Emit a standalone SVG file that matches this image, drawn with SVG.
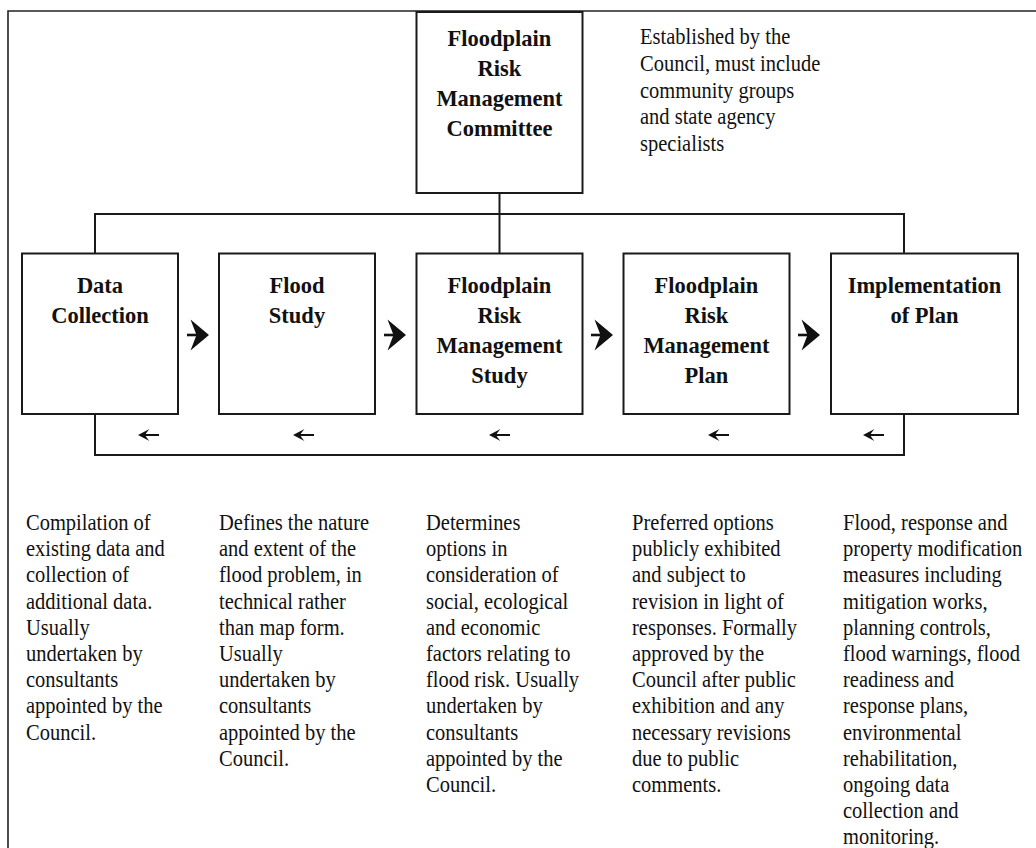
<svg xmlns="http://www.w3.org/2000/svg" width="1036" height="848" viewBox="0 0 1036 848">
<style>
.box{fill:#fff;stroke:#1a1a1a;stroke-width:2}
.ln{fill:none;stroke:#1a1a1a;stroke-width:2}
.frame{fill:none;stroke:#222;stroke-width:1.6}
.h{font-family:"Liberation Serif","Times New Roman",serif;font-weight:bold;font-size:22.5px;fill:#111;text-anchor:middle}
.b{font-family:"Liberation Serif","Times New Roman",serif;font-size:20.5px;fill:#111}
.ah{fill:#111}
</style>
<defs>
<g id="fwd">
<path d="M0,0 L-18.5,-15.5 L-12.5,0 L-18.5,15.5 Z"/>
<path d="M-22,0 H-11" stroke="#111" stroke-width="2.6"/>
</g>
<g id="back">
<path d="M0,0 L11.5,-6 Q7.5,-1.5 7.5,0 Q7.5,1.5 11.5,6 Z"/>
<path d="M5,0 H21" stroke="#111" stroke-width="2"/>
</g>
</defs>
<rect width="1036" height="848" fill="#fff"/>
<path class="frame" d="M8,850 V11 H1040"/>

<g id="connectors">
<path class="ln" d="M499.5,193 V253.5"/>
<path class="ln" d="M95,253.5 V214 H904 V253.5"/>
<path class="ln" d="M95,414 V455 H904 V414"/>
<g class="ah">
<use href="#fwd" x="209" y="335"/>
<use href="#fwd" x="406" y="335"/>
<use href="#fwd" x="613" y="335"/>
<use href="#fwd" x="820" y="335"/>
<use href="#back" x="138" y="435"/>
<use href="#back" x="293" y="435"/>
<use href="#back" x="489" y="435"/>
<use href="#back" x="708" y="435"/>
<use href="#back" x="863" y="435"/>
</g>
</g>

<g id="committee">
<rect class="box" x="416.5" y="12" width="166" height="181"/>
<text class="h" x="499.5" y="46">Floodplain<tspan x="499.5" dy="30">Risk</tspan><tspan x="499.5" dy="30">Management</tspan><tspan x="499.5" dy="30">Committee</tspan></text>
</g>
<g id="committee-note" transform="translate(640,44) scale(1,1.15)">
<text class="b" x="0" y="0">Established by the<tspan x="0" dy="23.3">Council, must include</tspan><tspan x="0" dy="23.3">community groups</tspan><tspan x="0" dy="23.3">and state agency</tspan><tspan x="0" dy="23.3">specialists</tspan></text>
</g>

<g id="data-collection">
<rect class="box" x="22" y="253.5" width="156" height="160.5"/>
<text class="h" x="100" y="293">Data<tspan x="100" dy="30">Collection</tspan></text>
</g>
<g id="flood-study">
<rect class="box" x="219" y="253.5" width="156" height="160.5"/>
<text class="h" x="297" y="293">Flood<tspan x="297" dy="30">Study</tspan></text>
</g>
<g id="frm-study">
<rect class="box" x="416.5" y="253.5" width="166" height="160.5"/>
<text class="h" x="499.5" y="293">Floodplain<tspan x="499.5" dy="30">Risk</tspan><tspan x="499.5" dy="30">Management</tspan><tspan x="499.5" dy="30">Study</tspan></text>
</g>
<g id="frm-plan">
<rect class="box" x="623.5" y="253.5" width="166" height="160.5"/>
<text class="h" x="706.5" y="293">Floodplain<tspan x="706.5" dy="30">Risk</tspan><tspan x="706.5" dy="30">Management</tspan><tspan x="706.5" dy="30">Plan</tspan></text>
</g>
<g id="implementation">
<rect class="box" x="831" y="253.5" width="187" height="160.5"/>
<text class="h" x="924.5" y="293">Implementation<tspan x="924.5" dy="30">of Plan</tspan></text>
</g>

<g id="desc-data-collection" transform="translate(26,530) scale(1,1.15)">
<text class="b" x="0" y="0">Compilation of<tspan x="0" dy="22.78">existing data and</tspan><tspan x="0" dy="22.78">collection of</tspan><tspan x="0" dy="22.78">additional data.</tspan><tspan x="0" dy="22.78">Usually</tspan><tspan x="0" dy="22.78">undertaken by</tspan><tspan x="0" dy="22.78">consultants</tspan><tspan x="0" dy="22.78">appointed by the</tspan><tspan x="0" dy="22.78">Council.</tspan></text>
</g>
<g id="desc-flood-study" transform="translate(219,530) scale(1,1.15)">
<text class="b" x="0" y="0">Defines the nature<tspan x="0" dy="22.78">and extent of the</tspan><tspan x="0" dy="22.78">flood problem, in</tspan><tspan x="0" dy="22.78">technical rather</tspan><tspan x="0" dy="22.78">than map form.</tspan><tspan x="0" dy="22.78">Usually</tspan><tspan x="0" dy="22.78">undertaken by</tspan><tspan x="0" dy="22.78">consultants</tspan><tspan x="0" dy="22.78">appointed by the</tspan><tspan x="0" dy="22.78">Council.</tspan></text>
</g>
<g id="desc-frm-study" transform="translate(426,530) scale(1,1.15)">
<text class="b" x="0" y="0">Determines<tspan x="0" dy="22.78">options in</tspan><tspan x="0" dy="22.78">consideration of</tspan><tspan x="0" dy="22.78">social, ecological</tspan><tspan x="0" dy="22.78">and economic</tspan><tspan x="0" dy="22.78">factors relating to</tspan><tspan x="0" dy="22.78">flood risk. Usually</tspan><tspan x="0" dy="22.78">undertaken by</tspan><tspan x="0" dy="22.78">consultants</tspan><tspan x="0" dy="22.78">appointed by the</tspan><tspan x="0" dy="22.78">Council.</tspan></text>
</g>
<g id="desc-frm-plan" transform="translate(632,530) scale(1,1.15)">
<text class="b" x="0" y="0">Preferred options<tspan x="0" dy="22.78">publicly exhibited</tspan><tspan x="0" dy="22.78">and subject to</tspan><tspan x="0" dy="22.78">revision in light of</tspan><tspan x="0" dy="22.78">responses. Formally</tspan><tspan x="0" dy="22.78">approved by the</tspan><tspan x="0" dy="22.78">Council after public</tspan><tspan x="0" dy="22.78">exhibition and any</tspan><tspan x="0" dy="22.78">necessary revisions</tspan><tspan x="0" dy="22.78">due to public</tspan><tspan x="0" dy="22.78">comments.</tspan></text>
</g>
<g id="desc-implementation" transform="translate(843,530) scale(1,1.15)">
<text class="b" x="0" y="0">Flood, response and<tspan x="0" dy="22.78">property modification</tspan><tspan x="0" dy="22.78">measures including</tspan><tspan x="0" dy="22.78">mitigation works,</tspan><tspan x="0" dy="22.78">planning controls,</tspan><tspan x="0" dy="22.78">flood warnings, flood</tspan><tspan x="0" dy="22.78">readiness and</tspan><tspan x="0" dy="22.78">response plans,</tspan><tspan x="0" dy="22.78">environmental</tspan><tspan x="0" dy="22.78">rehabilitation,</tspan><tspan x="0" dy="22.78">ongoing data</tspan><tspan x="0" dy="22.78">collection and</tspan><tspan x="0" dy="22.78">monitoring.</tspan></text>
</g>
</svg>
